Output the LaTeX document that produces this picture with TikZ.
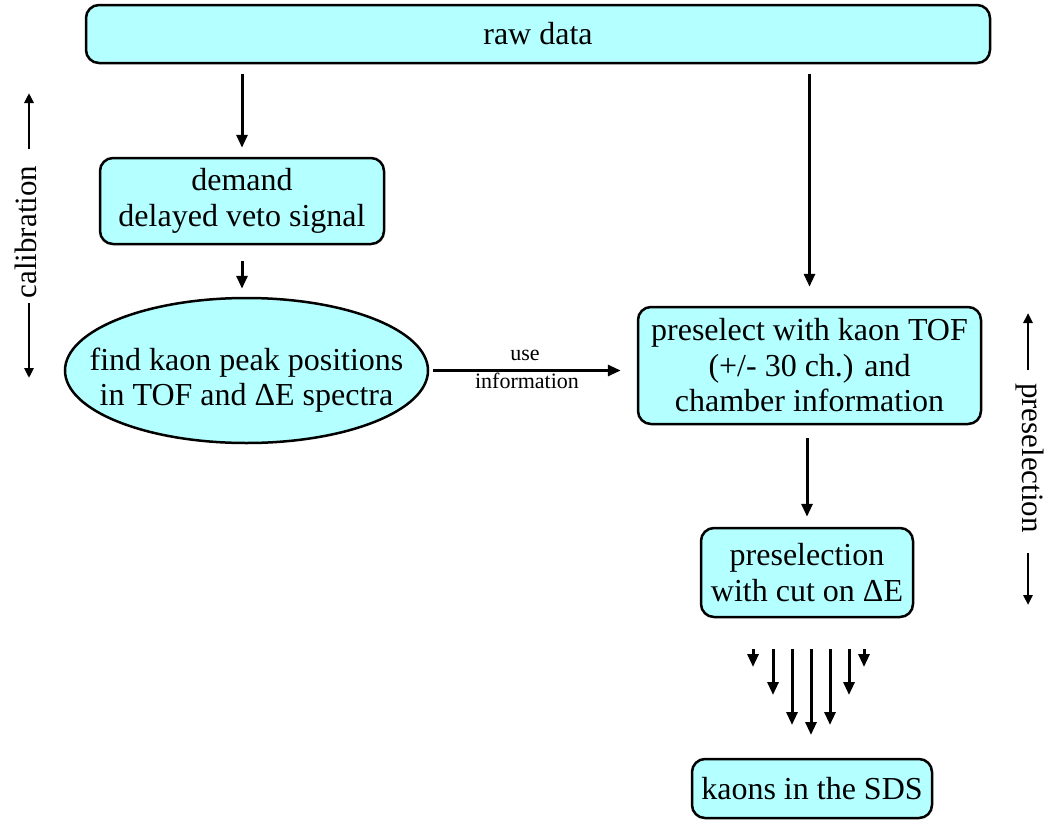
\documentclass[tikz,border=0pt]{standalone}
\usepackage{fontspec}
\setmainfont{Liberation Serif}
\usetikzlibrary{shapes.geometric,arrows.meta}
\definecolor{boxfill}{RGB}{180,255,255}
\begin{document}
\begin{tikzpicture}[x=1pt,y=-1pt,
  box/.style={draw=black, line width=2.5pt, fill=boxfill, rounded corners=13pt, align=center, inner sep=0pt, font=\fontsize{32}{35.5}\selectfont},
  ellbox/.style={draw=black, line width=2.5pt, fill=boxfill, ellipse, inner sep=0pt},
  txt/.style={align=center, inner sep=0pt, font=\fontsize{32}{35.5}\selectfont},
  arr/.style={line width=3pt, -{Triangle[width=11pt,length=13pt]}},
  sidearr/.style={line width=2.5pt, -{Triangle[width=9pt,length=10pt]}},
  side/.style={inner sep=0pt, font=\fontsize{31}{35}\selectfont},
  small/.style={inner sep=0pt, font=\fontsize{22}{24}\selectfont}]
\useasboundingbox (0,0) rectangle (1049,819);

% nodes
\node[box, minimum width=904pt, minimum height=58pt] (raw) at (538,34) {raw data};
\node[box, minimum width=284pt, minimum height=86pt] (dem) at (242,201) {demand\\delayed veto signal};
\node[ellbox, minimum width=363pt, minimum height=145pt] (ell) at (246.5,370.5) {};
\node[txt] (elltxt) at (246.5,380) {find kaon peak positions\\in TOF and ΔE spectra};
\node[box, minimum width=343pt, minimum height=117pt] (pre) at (809.5,365.5) {preselect with kaon TOF\\(+/- 30 ch.) and\\chamber information};
\node[box, minimum width=212pt, minimum height=89pt] (sel) at (807,572.5) {preselection\\with cut on ΔE};
\node[box, minimum width=240pt, minimum height=59pt] (kaon) at (812,788.5) {kaons in the SDS};

% connectors
\draw[arr, shorten <=10pt, shorten >=9pt] (raw.south -| dem.north) -- (dem.north);
\draw[arr, shorten <=10pt, shorten >=19pt] (raw.south -| pre.north) -- (pre.north);
\draw[arr, shorten <=16pt, shorten >=8pt] (dem.south) -- (dem.south |- ell.north);
\draw[arr, shorten <=4pt, shorten >=16pt] (ell.east) -- (ell.east -| pre.west);
\node[small] (use) at (525,355) {use};
\node[small] (info) at (527,381) {information};
\draw[arr, shorten <=13pt, shorten >=10pt] (pre.south -| sel.north) -- (sel.north);

% fan of arrows
\foreach \i/\x/\y in {1/753/667, 2/773/695, 3/792/725, 4/811/735, 5/830/725, 6/849/695, 7/864/667}{
  \coordinate (fs\i) at (\x,649);
  \coordinate (fe\i) at (\x,\y);
  \draw[arr] (fs\i) -- (fe\i);
}

% side labels
\node[side, rotate=90] (cal) at (26,232) {calibration};
\coordinate (cu1) at (29,149); \coordinate (cu2) at (29,93);
\coordinate (cd1) at (29,303); \coordinate (cd2) at (29,378);
\draw[sidearr] (cu1) -- (cu2);
\draw[sidearr] (cd1) -- (cd2);

\node[side, rotate=-90] (psel) at (1030,458) {preselection};
\coordinate (pu1) at (1028,370); \coordinate (pu2) at (1028,313);
\coordinate (pd1) at (1028,553); \coordinate (pd2) at (1028,605);
\draw[sidearr] (pu1) -- (pu2);
\draw[sidearr] (pd1) -- (pd2);
\end{tikzpicture}
\end{document}
